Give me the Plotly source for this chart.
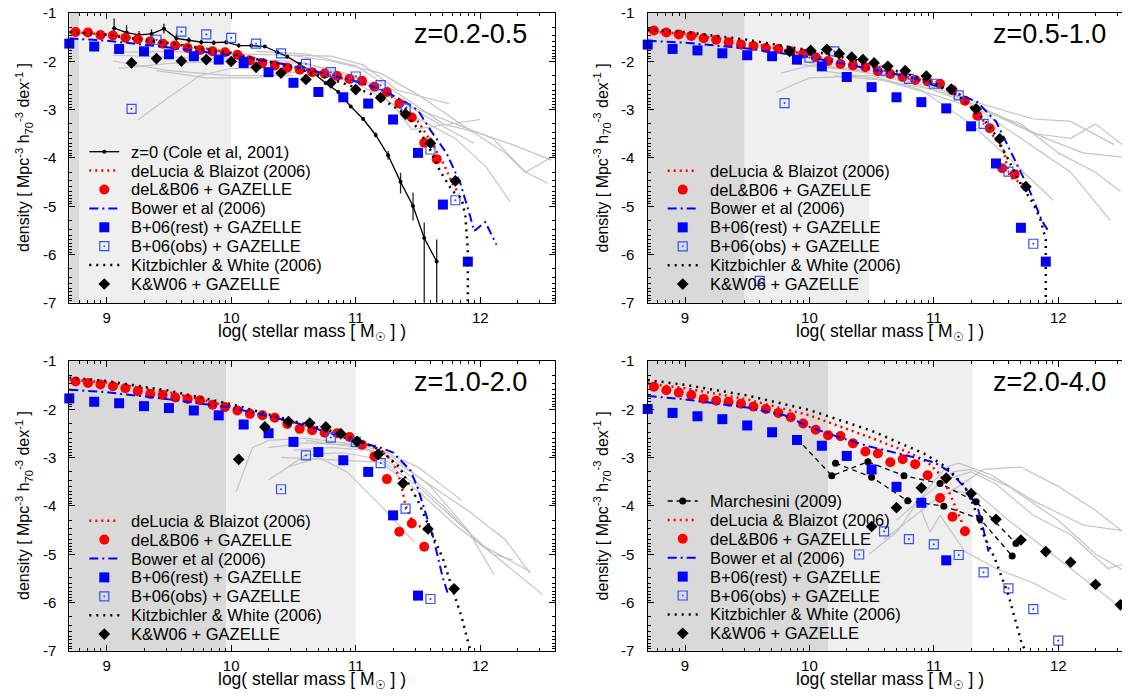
import plotly.graph_objects as go
import numpy as np

FONT = "Liberation Sans, Arial, Helvetica, sans-serif"

# ---------------- data: panel 1 (z=0.2-0.5) ----------------
p1_cole_x = [9.06, 9.16, 9.26, 9.36, 9.46, 9.56, 9.66, 9.76, 9.86, 9.96, 10.06, 10.16, 10.27, 10.37,
             10.45, 10.55, 10.66, 10.76, 10.86, 10.96, 11.06, 11.16, 11.26, 11.36, 11.46, 11.55, 11.65]
p1_cole_y = [-1.32, -1.41, -1.46, -1.44, -1.33, -1.53, -1.57, -1.61, -1.62, -1.61, -1.68, -1.68, -1.70, -1.82,
             -1.91, -2.06, -2.25, -2.46, -2.64, -2.94, -3.20, -3.53, -3.95, -4.50, -5.00, -5.66, -6.15]
p1_cole_eplus = [0.20, 0.15, 0.08, 0.10, 0.10, 0.10, 0.06, 0.05, 0.05, 0.05, 0.04, 0.04, 0.03, 0.03,
                 0.03, 0.03, 0.03, 0.03, 0.03, 0.03, 0.04, 0.05, 0.09, 0.19, 0.28, 0.32, 0.46]
p1_cole_eminus = [0.20, 0.15, 0.08, 0.10, 0.10, 0.10, 0.06, 0.05, 0.05, 0.05, 0.04, 0.04, 0.03, 0.03,
                  0.03, 0.03, 0.03, 0.03, 0.03, 0.03, 0.04, 0.05, 0.09, 0.24, 0.30, 2.0, 2.0]
p1_dl_x = [8.7, 9.0, 9.5, 10.0, 10.5, 10.8, 11.0, 11.2, 11.4, 11.5, 11.6, 11.7, 11.78, 11.83]
p1_dl_y = [-1.40, -1.45, -1.62, -1.83, -2.12, -2.30, -2.42, -2.58, -2.95, -3.25, -3.65, -4.10, -4.55, -4.75]
p1_red_x = [round(8.75 + 0.1 * i, 2) for i in range(30)]
p1_red_y = [-1.40, -1.41, -1.46, -1.47, -1.52, -1.55, -1.59, -1.64, -1.68, -1.73, -1.77, -1.80, -1.82, -1.87, -1.99,
            -2.04, -2.09, -2.14, -2.18, -2.23, -2.26, -2.31, -2.37, -2.41, -2.53, -2.64, -2.88, -3.17, -3.69, -4.03]
p1_bw_x = [8.7, 9.0, 9.5, 10.0, 10.5, 11.0, 11.2, 11.4, 11.5, 11.6, 11.73, 11.84, 11.92, 11.95, 12.04, 12.13]
p1_bw_y = [-1.53, -1.58, -1.72, -1.88, -2.10, -2.42, -2.58, -2.85, -3.02, -3.43, -3.91, -4.53, -5.22, -5.52, -5.33, -5.80]
p1_bsq_x = [8.7, 8.9, 9.1, 9.3, 9.5, 9.7, 9.9, 10.1, 10.3, 10.5, 10.7, 10.9, 11.1, 11.3, 11.5, 11.7, 11.9]
p1_bsq_y = [-1.64, -1.70, -1.75, -1.80, -1.86, -1.90, -1.97, -2.04, -2.23, -2.45, -2.64, -2.75, -2.88, -3.21,
            -3.90, -4.97, -6.15]
p1_osq_x = [9.2, 9.4, 9.6, 9.8, 10.0, 10.2, 10.4, 10.6, 10.8, 11.0, 11.2, 11.4, 11.6, 11.8]
p1_osq_y = [-2.99, -1.56, -1.39, -1.45, -1.52, -1.64, -1.84, -2.06, -2.23, -2.32, -2.50, -2.98, -3.83, -4.88]
p1_kw_x = [8.7, 9.0, 9.5, 10.0, 10.5, 10.8, 11.0, 11.2, 11.4, 11.51, 11.6, 11.68, 11.78, 11.85, 11.88, 11.9, 11.9]
p1_kw_y = [-1.40, -1.46, -1.63, -1.84, -2.13, -2.37, -2.55, -2.77, -3.10, -3.43, -3.85, -4.29, -4.70, -4.84, -5.2,
           -5.9, -7.0]
p1_dia_x = [9.2, 9.4, 9.6, 9.8, 10.0, 10.2, 10.4, 10.6, 10.8, 11.0, 11.2, 11.4, 11.6, 11.8]
p1_dia_y = [-2.04, -1.95, -2.00, -1.97, -2.01, -2.13, -2.25, -2.38, -2.45, -2.59, -2.76, -3.10, -3.70, -4.48]
p1_gray = [
    ([9.05, 9.5, 10.0, 10.5, 10.8, 11.06, 11.33, 11.55, 11.75], [-1.82, -1.80, -1.85, -1.88, -1.90, -2.08, -2.60, -2.75, -2.88]),
    ([9.05, 9.6, 10.0, 10.5, 11.0, 11.3, 11.45, 12.0], [-1.88, -1.92, -1.95, -2.0, -2.3, -2.9, -3.42, -3.21]),
    ([9.1, 9.5, 10.0, 10.6, 11.0, 11.4, 11.7, 11.95], [-2.15, -2.05, -2.0, -2.05, -2.35, -2.9, -3.35, -3.7]),
    ([9.25, 9.5, 9.75, 10.0, 10.5, 11.0, 11.4, 11.8, 12.05, 12.24], [-3.22, -2.75, -2.3, -2.15, -2.15, -2.45, -3.05, -3.6, -4.2, -4.91]),
    ([9.4, 9.8, 10.2, 10.6, 11.0, 11.4, 11.8, 12.1, 12.36, 12.54], [-2.2, -2.35, -2.35, -2.2, -2.3, -2.9, -3.3, -3.6, -4.29, -4.53]),
    ([10.2, 10.6, 11.0, 11.3, 11.7, 12.0, 12.27, 12.57], [-1.8, -1.85, -2.1, -2.6, -3.3, -3.5, -3.74, -4.05]),
    ([10.4, 10.8, 11.2, 11.5, 11.9, 12.2, 12.36, 12.6], [-1.85, -2.0, -2.25, -2.7, -3.4, -3.9, -4.3, -3.95]),
    ([9.05, 9.5, 10.0, 10.5], [-2.0, -2.2, -2.3, -2.3]),
]

# ---------------- data: panel 2 (z=0.5-1.0) ----------------
p2_dl_x = [8.7, 9.0, 9.5, 10.0, 10.5, 10.8, 11.0, 11.2, 11.35, 11.45, 11.56, 11.61, 11.73]
p2_dl_y = [-1.38, -1.44, -1.62, -1.87, -2.13, -2.33, -2.45, -2.68, -3.05, -3.45, -3.85, -4.40, -4.56]
p2_red_x = [round(8.75 + 0.1 * i, 2) for i in range(30)]
p2_red_y = [-1.37, -1.41, -1.45, -1.48, -1.53, -1.56, -1.61, -1.66, -1.69, -1.73, -1.75, -1.80, -1.85, -1.92, -2.00,
            -2.06, -2.09, -2.13, -2.21, -2.27, -2.33, -2.39, -2.42, -2.47, -2.60, -2.82, -3.13, -3.39, -4.22, -4.34]
p2_bw_x = [8.7, 9.0, 9.5, 10.0, 10.5, 10.8, 11.0, 11.2, 11.35, 11.5, 11.64, 11.76, 11.87, 11.93]
p2_bw_y = [-1.58, -1.62, -1.74, -1.92, -2.17, -2.33, -2.50, -2.68, -2.85, -3.25, -3.99, -4.62, -5.31, -5.55]
p2_bsq_x = [8.7, 8.9, 9.1, 9.3, 9.5, 9.7, 9.9, 10.1, 10.3, 10.5, 10.7, 10.9, 11.1, 11.3, 11.5, 11.7, 11.9]
p2_bsq_y = [-1.66, -1.75, -1.78, -1.84, -1.88, -1.90, -1.97, -2.11, -2.33, -2.54, -2.75, -2.85, -2.98, -3.35,
            -4.12, -5.45, -6.15]
p2_osq_x = [9.6, 9.8, 10.0, 10.2, 10.6, 10.8, 11.0, 11.2, 11.4, 11.6, 11.8]
p2_osq_y = [-6.55, -2.87, -1.93, -1.80, -2.20, -2.37, -2.47, -2.71, -3.30, -4.29, -5.78]
p2_kw_x = [8.7, 9.0, 9.5, 10.0, 10.5, 10.8, 11.0, 11.2, 11.4, 11.5, 11.6, 11.7, 11.8, 11.86, 11.9, 11.9]
p2_kw_y = [-1.35, -1.40, -1.56, -1.78, -2.05, -2.28, -2.45, -2.72, -3.20, -3.55, -4.05, -4.55, -4.95, -5.30, -5.70, -7.0]
p2_dia_x = [9.84, 10.01, 10.14, 10.24, 10.34, 10.43, 10.52, 10.63, 10.77, 10.94, 11.14, 11.34, 11.53, 11.74]
p2_dia_y = [-1.80, -1.78, -1.76, -1.85, -1.92, -1.97, -2.04, -2.11, -2.20, -2.31, -2.58, -2.99, -3.61, -4.60]
p2_gray = [
    ([9.73, 10.0, 10.5, 10.9, 11.3, 11.6, 11.96], [-2.65, -2.35, -2.3, -2.6, -3.3, -4.0, -4.88]),
    ([9.77, 10.0, 10.5, 11.0, 11.3, 11.7, 12.1, 12.42], [-2.25, -2.1, -2.2, -2.5, -2.9, -3.6, -4.3, -5.3]),
    ([9.85, 10.2, 10.6, 11.0, 11.4, 11.8, 12.1, 12.45], [-2.05, -2.15, -2.3, -2.55, -2.9, -3.2, -3.25, -3.73]),
    ([10.0, 10.4, 10.8, 11.2, 11.5, 11.9, 12.2, 12.55], [-2.05, -2.2, -2.45, -2.75, -3.1, -3.6, -3.9, -4.0]),
    ([10.1, 10.5, 11.0, 11.4, 11.8, 12.1, 12.3, 12.6], [-2.2, -2.35, -2.6, -3.0, -3.5, -3.6, -3.3, -3.9]),
    ([10.2, 10.6, 11.0, 11.3, 11.7, 12.0, 12.3, 12.5], [-2.3, -2.4, -2.7, -2.95, -3.3, -3.9, -4.3, -4.7]),
]

# ---------------- data: panel 3 (z=1.0-2.0) ----------------
p3_dl_x = [8.7, 9.0, 9.5, 10.0, 10.5, 10.8, 11.0, 11.2, 11.3, 11.36, 11.4, 11.45, 11.55, 11.6]
p3_dl_y = [-1.39, -1.45, -1.65, -1.95, -2.28, -2.48, -2.63, -2.85, -3.10, -3.50, -4.00, -4.30, -4.50, -4.55]
p3_red_x = [round(8.75 + 0.1 * i, 2) for i in range(29)]
p3_red_y = [-1.43, -1.46, -1.49, -1.53, -1.57, -1.63, -1.69, -1.71, -1.76, -1.79, -1.82, -1.91, -1.96, -2.03, -2.10,
            -2.13, -2.18, -2.31, -2.41, -2.44, -2.49, -2.50, -2.58, -2.74, -2.98, -3.45, -4.54, -4.37, -4.85]
p3_bw_x = [8.7, 9.0, 9.5, 10.0, 10.5, 10.8, 11.0, 11.2, 11.3, 11.44, 11.5, 11.62, 11.7, 11.74]
p3_bw_y = [-1.60, -1.65, -1.80, -1.97, -2.27, -2.50, -2.67, -2.80, -2.90, -3.27, -3.65, -4.64, -5.50, -5.82]
p3_bsq_x = [8.7, 8.9, 9.1, 9.3, 9.5, 9.7, 9.9, 10.1, 10.3, 10.5, 10.7, 10.9, 11.1, 11.3, 11.5]
p3_bsq_y = [-1.78, -1.85, -1.88, -1.94, -1.98, -2.03, -2.13, -2.32, -2.50, -2.68, -2.89, -3.06, -3.30, -4.20, -5.86]
p3_osq_x = [10.4, 10.6, 10.8, 11.0, 11.2, 11.4, 11.6]
p3_osq_y = [-3.66, -2.96, -2.59, -2.68, -3.12, -4.06, -5.93]
p3_kw_x = [8.7, 9.0, 9.5, 10.0, 10.5, 10.8, 11.0, 11.2, 11.35, 11.5, 11.6, 11.7, 11.78, 11.85, 11.92]
p3_kw_y = [-1.35, -1.42, -1.62, -1.90, -2.25, -2.45, -2.62, -2.85, -3.20, -3.90, -4.50, -5.10, -5.75, -6.30, -7.0]
p3_dia_x = [10.06, 10.27, 10.46, 10.63, 10.76, 10.88, 11.01, 11.18, 11.38, 11.58, 11.79]
p3_dia_y = [-3.04, -2.37, -2.26, -2.29, -2.37, -2.51, -2.67, -2.94, -3.54, -4.48, -5.72]
p3_gray = [
    ([10.04, 10.17, 10.3, 10.6, 10.9, 11.2, 11.5, 11.85], [-3.71, -2.8, -2.65, -2.6, -2.7, -2.85, -3.2, -3.89]),
    ([10.3, 10.6, 10.9, 11.2, 11.5, 11.8, 12.1, 12.26], [-3.47, -2.95, -2.9, -3.05, -3.6, -4.3, -5.0, -5.12]),
    ([10.46, 10.7, 10.93, 11.2, 11.47], [-3.2, -3.0, -3.3, -4.0, -4.75]),
    ([10.3, 10.6, 11.0, 11.3, 11.6, 11.9, 12.11], [-2.8, -2.7, -2.75, -3.0, -3.6, -4.5, -5.43]),
    ([10.5, 10.8, 11.1, 11.4, 11.7, 12.0, 12.4], [-2.85, -2.8, -2.85, -3.3, -4.0, -4.8, -5.36]),
    ([10.4, 10.8, 11.2, 11.5, 11.8, 12.1, 12.5], [-3.0, -3.05, -3.1, -3.7, -4.4, -5.0, -5.84]),
    ([10.6, 10.9, 11.2, 11.5, 11.9, 12.2, 12.4], [-2.65, -2.75, -2.9, -3.4, -4.1, -4.7, -5.4]),
]

# ---------------- data: panel 4 (z=2.0-4.0) ----------------
p4_m1_x = [9.90, 10.18, 10.47, 10.76, 11.05, 11.34, 11.66]
p4_m1_y = [-2.61, -3.38, -3.09, -3.38, -3.54, -3.92, -4.78]
p4_m2_x = [10.21, 10.50, 10.79, 11.08, 11.37, 11.63]
p4_m2_y = [-3.12, -3.41, -3.90, -4.01, -4.27, -5.04]
p4_dl_x = [8.7, 9.0, 9.5, 10.0, 10.5, 10.8, 10.95, 11.05, 11.12, 11.18, 11.23]
p4_dl_y = [-1.47, -1.57, -1.80, -2.13, -2.60, -2.90, -3.10, -3.35, -3.70, -4.05, -4.37]
p4_red_x = [round(8.75 + 0.1 * i, 2) for i in range(26)]
p4_red_y = [-1.54, -1.61, -1.66, -1.71, -1.79, -1.83, -1.85, -1.89, -1.95, -2.00, -2.08, -2.17, -2.30, -2.43,
            -2.54, -2.56, -2.71, -2.88, -2.92, -3.10, -3.04, -3.14, -3.37, -3.84, -4.23, -4.53]
p4_bw_x = [8.7, 9.0, 9.5, 9.8, 10.0, 10.2, 10.46, 10.65, 11.0, 11.13, 11.27, 11.35, 11.4, 11.44]
p4_bw_y = [-1.73, -1.80, -1.97, -2.13, -2.37, -2.55, -2.76, -2.88, -3.10, -3.30, -3.68, -4.02, -4.50, -4.95]
p4_bsq_x = [8.7, 8.9, 9.1, 9.3, 9.5, 9.7, 9.9, 10.1, 10.3, 10.5, 10.7, 10.9, 11.1]
p4_bsq_y = [-2.00, -2.08, -2.15, -2.21, -2.34, -2.48, -2.64, -2.76, -2.97, -3.25, -3.61, -3.94, -5.13]
p4_osq_x = [10.4, 10.6, 10.8, 11.0, 11.2, 11.4, 11.6, 11.8, 12.0]
p4_osq_y = [-5.01, -4.53, -4.69, -4.80, -5.02, -5.38, -5.71, -6.14, -6.79]
p4_kw_x = [8.7, 9.0, 9.5, 10.0, 10.5, 10.92, 11.1, 11.25, 11.32, 11.4, 11.49, 11.6, 11.71, 11.74]
p4_kw_y = [-1.40, -1.50, -1.72, -2.02, -2.45, -2.92, -3.20, -3.60, -4.00, -4.60, -5.09, -5.85, -6.88, -7.0]
p4_dia_x = [10.5, 10.7, 10.9, 11.1, 11.3, 11.5, 11.7, 11.9, 12.1, 12.3, 12.5]
p4_dia_y = [-4.43, -4.04, -3.63, -3.43, -3.75, -4.28, -4.71, -4.95, -5.17, -5.63, -6.05]
p4_gray = [
    ([10.48, 10.7, 10.85, 11.0, 11.1, 11.2, 11.45, 11.8, 12.2, 12.6], [-5.0, -4.55, -4.0, -3.5, -3.2, -3.12, -3.35, -3.9, -4.4, -4.55]),
    ([10.7, 10.9, 11.0, 11.15, 11.3, 11.6, 12.0, 12.3, 12.6], [-4.3, -3.85, -3.65, -3.3, -3.25, -3.6, -4.3, -5.0, -5.45]),
    ([10.9, 10.97, 11.05, 11.25, 11.5, 11.8, 12.06], [-4.1, -4.55, -4.2, -4.95, -5.3, -5.6, -5.95]),
    ([11.1, 11.3, 11.5, 11.8, 12.1, 12.4, 12.6], [-3.45, -3.3, -3.55, -4.2, -4.6, -5.3, -5.15]),
    ([11.15, 11.35, 11.6, 11.9, 12.2, 12.5], [-3.7, -3.75, -4.3, -4.9, -5.5, -6.1]),
    ([10.6, 10.8, 11.0, 11.2, 11.4, 11.7, 12.0, 12.3, 12.6], [-4.7, -4.3, -3.9, -3.6, -3.25, -3.2, -3.6, -4.1, -4.7]),
]

# shaded regions (dark, light) per panel
bands_dark = [(8.7, 8.78), (8.7, 9.48), (8.7, 9.96), (8.7, 10.15)]
bands_light = [(8.78, 10.0), (9.48, 10.48), (9.96, 11.0), (10.15, 11.31)]
panel_labels = ["z=0.2-0.5", "z=0.5-1.0", "z=1.0-2.0", "z=2.0-4.0"]

x_ticks = [9, 10, 11, 12]
y_ticks = [-1, -2, -3, -4, -5, -6, -7]

names = {
    "cole": "z=0 (Cole et al, 2001)",
    "dl": "deLucia & Blaizot (2006)",
    "red": "deL&B06 + GAZELLE",
    "bw": "Bower et al (2006)",
    "bsq": "B+06(rest) + GAZELLE",
    "osq": "B+06(obs) + GAZELLE",
    "kw": "Kitzbichler & White (2006)",
    "dia": "K&W06 + GAZELLE",
    "m": "Marchesini (2009)",
}
legend_rows = [
    ["cole", "dl", "red", "bw", "bsq", "osq", "kw", "dia"],
    ["dl", "red", "bw", "bsq", "osq", "kw", "dia"],
    ["dl", "red", "bw", "bsq", "osq", "kw", "dia"],
    ["m", "dl", "red", "bw", "bsq", "osq", "kw", "dia"],
]

panels = [
    dict(gray=p1_gray, cole=(p1_cole_x, p1_cole_y, p1_cole_eplus, p1_cole_eminus), march=None,
         dl=(p1_dl_x, p1_dl_y), red=(p1_red_x, p1_red_y), bw=(p1_bw_x, p1_bw_y), bsq=(p1_bsq_x, p1_bsq_y),
         osq=(p1_osq_x, p1_osq_y), kw=(p1_kw_x, p1_kw_y), dia=(p1_dia_x, p1_dia_y)),
    dict(gray=p2_gray, cole=None, march=None,
         dl=(p2_dl_x, p2_dl_y), red=(p2_red_x, p2_red_y), bw=(p2_bw_x, p2_bw_y), bsq=(p2_bsq_x, p2_bsq_y),
         osq=(p2_osq_x, p2_osq_y), kw=(p2_kw_x, p2_kw_y), dia=(p2_dia_x, p2_dia_y)),
    dict(gray=p3_gray, cole=None, march=None,
         dl=(p3_dl_x, p3_dl_y), red=(p3_red_x, p3_red_y), bw=(p3_bw_x, p3_bw_y), bsq=(p3_bsq_x, p3_bsq_y),
         osq=(p3_osq_x, p3_osq_y), kw=(p3_kw_x, p3_kw_y), dia=(p3_dia_x, p3_dia_y)),
    dict(gray=p4_gray, cole=None, march=[(p4_m1_x, p4_m1_y), (p4_m2_x, p4_m2_y)],
         dl=(p4_dl_x, p4_dl_y), red=(p4_red_x, p4_red_y), bw=(p4_bw_x, p4_bw_y), bsq=(p4_bsq_x, p4_bsq_y),
         osq=(p4_osq_x, p4_osq_y), kw=(p4_kw_x, p4_kw_y), dia=(p4_dia_x, p4_dia_y)),
]

# ---------------- styles ----------------
RED, BLUE, OBLUE = "#ff0000", "#0000ff", "#3350ff"
DL_LINE = dict(color=RED, width=2.5, dash="2px,4px")
BW_LINE = dict(color=BLUE, width=2, dash="9px,4px,2px,4px")
KW_LINE = dict(color="black", width=2.5, dash="2px,5px")
M_LINE = dict(color="black", width=1.3, dash="5px,4px")
SZ_RED, SZ_SQ, SZ_OSQ, SZ_DIA = 10, 10, 9, 9

# ---------------- layout geometry ----------------
# The page body adds an 8 px margin around the figure, so the figure is made
# 8 px smaller and every target pixel position is shifted by that offset.
OFF = 8
W, H = 1130 - OFF, 697 - OFF
px_x = [(69.3, 555.0), (647.7, 1130.0), (69.3, 555.0), (647.7, 1130.0)]
px_y = [(12.7, 302.7), (12.7, 302.7), (360.7, 650.7), (360.7, 650.7)]
x_ranges = [[8.7, 12.6], [8.7, 12.577], [8.7, 12.6], [8.7, 12.577]]
legend_first_row = [151.7, 170.7, 520.7, 501.0]
ROW = 18.9


def pxx(v):
    return (v - OFF) / W


def pxy(v):
    return (H - (v - OFF)) / H


fig = go.Figure()

for i, p in enumerate(panels):
    k = i + 1
    xa = "x" if k == 1 else f"x{k}"
    ya = "y" if k == 1 else f"y{k}"
    common = dict(xaxis=xa, yaxis=ya, hoverinfo="skip", showlegend=False)

    for gx, gy in p["gray"]:
        fig.add_trace(go.Scatter(x=gx, y=gy, mode="lines", line=dict(color="#c4c4c4", width=1.2), **common))
    if p["cole"] is not None:
        cx, cy, ep, em = p["cole"]
        fig.add_trace(go.Scatter(x=cx, y=cy, mode="lines+markers", name=names["cole"],
                                 line=dict(color="black", width=1.3),
                                 marker=dict(symbol="circle", size=4, color="black"),
                                 error_y=dict(type="data", symmetric=False, array=ep, arrayminus=em,
                                              width=0, thickness=1.3, color="#222222"),
                                 **common))
    if p["march"] is not None:
        for mx, my in p["march"]:
            fig.add_trace(go.Scatter(x=mx, y=my, mode="lines+markers", name=names["m"], line=M_LINE,
                                     marker=dict(symbol="circle", size=7, color="black"), **common))
    fig.add_trace(go.Scatter(x=p["dl"][0], y=p["dl"][1], mode="lines", name=names["dl"], line=DL_LINE, **common))
    fig.add_trace(go.Scatter(x=p["red"][0], y=p["red"][1], mode="markers", name=names["red"],
                             marker=dict(symbol="circle", size=SZ_RED, color=RED), cliponaxis=False, **common))
    fig.add_trace(go.Scatter(x=p["bw"][0], y=p["bw"][1], mode="lines", name=names["bw"], line=BW_LINE, **common))
    fig.add_trace(go.Scatter(x=p["bsq"][0], y=p["bsq"][1], mode="markers", name=names["bsq"],
                             marker=dict(symbol="square", size=SZ_SQ, color=BLUE), cliponaxis=False, **common))
    fig.add_trace(go.Scatter(x=p["osq"][0], y=p["osq"][1], mode="markers", name=names["osq"],
                             marker=dict(symbol="square-open-dot", size=SZ_OSQ, color=OBLUE,
                                         line=dict(width=1.2, color=OBLUE)),
                             cliponaxis=False, **common))
    fig.add_trace(go.Scatter(x=p["kw"][0], y=p["kw"][1], mode="lines", name=names["kw"], line=KW_LINE, **common))
    fig.add_trace(go.Scatter(x=p["dia"][0], y=p["dia"][1], mode="markers", name=names["dia"],
                             marker=dict(symbol="diamond", size=SZ_DIA, color="black"), cliponaxis=False, **common))

# minor ticks like the original (logarithmic-looking sub ticks)
x_minor = [n + np.log10(m) for n in range(8, 13) for m in range(2, 10)]
x_minor = [float(round(v, 4)) for v in x_minor if 8.7 < v < 12.6]
y_minor = [n - np.log10(m) for n in range(0, -8, -1) for m in range(2, 10)]
y_minor = [float(round(v, 4)) for v in y_minor if -7 < v < -1]

shapes = []
annotations = []


def leg_line(x0, x1, y, line):
    shapes.append(dict(type="line", xref="paper", yref="paper", x0=pxx(x0), x1=pxx(x1), y0=pxy(y), y1=pxy(y),
                       line=line, layer="above"))


def leg_circle(cx, cy, r, color):
    shapes.append(dict(type="circle", xref="paper", yref="paper", x0=pxx(cx - r), x1=pxx(cx + r),
                       y0=pxy(cy + r), y1=pxy(cy - r), fillcolor=color, line=dict(width=0), layer="above"))


def leg_rect(cx, cy, h, fill, line):
    shapes.append(dict(type="rect", xref="paper", yref="paper", x0=pxx(cx - h), x1=pxx(cx + h),
                       y0=pxy(cy + h), y1=pxy(cy - h), fillcolor=fill, line=line, layer="above"))


def leg_diamond(cx, cy, h, color):
    path = (f"M {pxx(cx - h)},{pxy(cy)} L {pxx(cx)},{pxy(cy - h)} L {pxx(cx + h)},{pxy(cy)} "
            f"L {pxx(cx)},{pxy(cy + h)} Z")
    shapes.append(dict(type="path", xref="paper", yref="paper", path=path, fillcolor=color,
                       line=dict(width=0), layer="above"))


layout = dict(width=W, height=H, margin=dict(l=0, r=0, t=0, b=0, autoexpand=False),
              paper_bgcolor="white", plot_bgcolor="white", showlegend=False,
              font=dict(family=FONT, size=15, color="black"))

for i in range(4):
    k = i + 1
    xs = "xaxis" if k == 1 else f"xaxis{k}"
    ys = "yaxis" if k == 1 else f"yaxis{k}"
    xa = "x" if k == 1 else f"x{k}"
    ya = "y" if k == 1 else f"y{k}"
    x0p, x1p = px_x[i]
    y0p, y1p = px_y[i]
    dom_x = [max(pxx(x0p), 0.0), min(pxx(x1p), 1.0)]
    dom_y = [max(pxy(y1p), 0.0), min(pxy(y0p), 1.0)]
    axcommon = dict(showline=True, linecolor="black", linewidth=1, mirror="allticks", ticks="inside",
                    ticklen=6, tickwidth=1, tickcolor="black", showgrid=False, zeroline=False,
                    tickfont=dict(family=FONT, size=15, color="black"))
    layout[xs] = dict(domain=dom_x, range=x_ranges[i], anchor=ya, tickmode="array", tickvals=x_ticks,
                      ticktext=[str(v) for v in x_ticks], ticklabelstandoff=1,
                      minor=dict(tickmode="array", tickvals=x_minor, ticks="inside", ticklen=3,
                                 tickcolor="black", showgrid=False),
                      **axcommon)
    layout[ys] = dict(domain=dom_y, range=[-7, -1], anchor=xa, tickmode="array", tickvals=y_ticks,
                      showticklabels=False,
                      minor=dict(tickmode="array", tickvals=y_minor, ticks="inside", ticklen=3,
                                 tickcolor="black", showgrid=False),
                      **axcommon)
    # y tick labels, placed on the y axis scale, right-aligned left of the spine
    for v in y_ticks:
        annotations.append(dict(text=str(v), xref="paper", yref=ya, x=pxx(x0p - 11.5), y=v,
                                xanchor="right", yanchor="middle", showarrow=False,
                                font=dict(family=FONT, size=15, color="black")))
    # shaded regions
    for (b0, b1), col in ((bands_dark[i], "#d9d9d9"), (bands_light[i], "#efefef")):
        shapes.append(dict(type="rect", xref=xa, yref=f"{ya} domain", x0=b0, x1=b1, y0=0, y1=1,
                           fillcolor=col, line=dict(width=0), layer="below"))
    # panel label
    annotations.append(dict(text=panel_labels[i], xref="paper", yref="paper",
                            x=pxx(x0p + 460), y=pxy(y0p + 21.5), xanchor="right", yanchor="middle",
                            showarrow=False, font=dict(family=FONT, size=27, color="black")))
    # axis titles
    annotations.append(dict(text="log( stellar mass [ M<sub>☉</sub> ] )", xref="paper", yref="paper",
                            x=pxx(x0p + 242.5), y=pxy(y1p + 30), xanchor="center",
                            yanchor="middle", showarrow=False,
                            font=dict(family=FONT, size=17.5, color="black")))
    annotations.append(dict(text="density [ Mpc<sup>-3</sup> h<sub>70</sub><sup>-3</sup> dex<sup>-1</sup> ]",
                            xref="paper", yref="paper", x=pxx(x0p - 46), y=pxy((y0p + y1p) / 2),
                            xanchor="center", yanchor="middle", textangle=-90, showarrow=False,
                            font=dict(family=FONT, size=16, color="black")))
    # hand-drawn legend (keys inside the panel)
    sx0, sx1, mx = x0p + 20, x0p + 50, x0p + 35
    for r, key in enumerate(legend_rows[i]):
        yrow = legend_first_row[i] + r * ROW
        if key == "cole":
            leg_line(sx0, sx1, yrow, dict(color="black", width=1.3))
            leg_circle(mx, yrow, 2, "black")
        elif key == "m":
            leg_line(sx0, sx1, yrow, M_LINE)
            leg_circle(mx, yrow, 3.5, "black")
        elif key == "dl":
            leg_line(sx0, sx1, yrow, DL_LINE)
        elif key == "bw":
            leg_line(sx0, sx1, yrow, BW_LINE)
        elif key == "kw":
            leg_line(sx0, sx1, yrow, KW_LINE)
        elif key == "red":
            leg_circle(mx, yrow, SZ_RED / 2, RED)
        elif key == "bsq":
            leg_rect(mx, yrow, SZ_SQ / 2, BLUE, dict(width=0))
        elif key == "osq":
            leg_rect(mx, yrow, SZ_OSQ / 2, "rgba(0,0,0,0)", dict(width=1.2, color=OBLUE))
            leg_rect(mx, yrow, 0.8, OBLUE, dict(width=0))
        elif key == "dia":
            leg_diamond(mx, yrow, SZ_DIA * 0.65, "black")
        annotations.append(dict(text=names[key], xref="paper", yref="paper", x=pxx(x0p + 60), y=pxy(yrow),
                                xanchor="left", yanchor="middle", showarrow=False,
                                font=dict(family=FONT, size=16.5, color="black")))

layout["shapes"] = shapes
layout["annotations"] = annotations
fig.update_layout(**layout)
fig.write_html("out.html")
